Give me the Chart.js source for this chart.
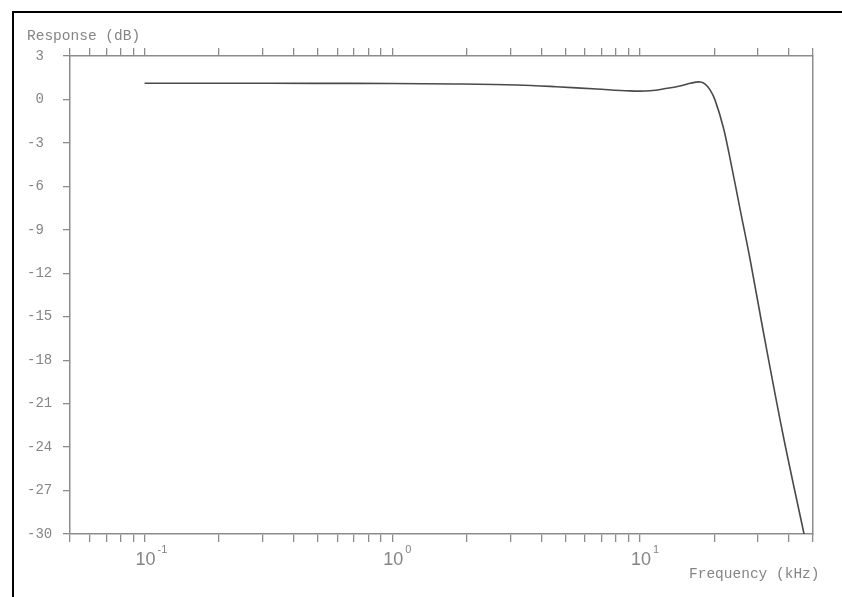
<!DOCTYPE html>
<html>
<head>
<meta charset="utf-8">
<script src="https://cdn.jsdelivr.net/npm/chart.js@4/dist/chart.umd.min.js"></script>
<style>
  html, body { margin: 0; padding: 0; background: #fff; overflow: hidden; }
  #wrap { position: relative; width: 842px; height: 597px; }
  #frame {
    position: absolute; left: 12px; top: 11px; right: -10px; bottom: -10px;
    border-top: 2px solid #000; border-left: 2px solid #000;
    pointer-events: none;
  }
  canvas { position: absolute; left: 0; top: 0; }
</style>
</head>
<body>
<div id="wrap">
  <canvas id="chart" width="842" height="597"></canvas>
  <div id="frame"></div>
</div>
<script>
// frequency (kHz) and response (dB)
const freqs = [0.1, 0.2, 0.5, 1, 1.8, 3.2, 4.6, 6.7, 9.1, 11, 12.9, 14.5, 16, 17.5, 18.3, 19.2, 20.1, 21.7, 23.2, 25.4, 27.9, 31.4, 37.9, 46]
const response = [1.12, 1.12, 1.11, 1.1, 1.07, 1.0, 0.88, 0.72, 0.59, 0.6, 0.77, 0.93, 1.12, 1.21, 1.07, 0.66, -0.03, -1.9, -4.2, -7.6, -11.1, -15.9, -23.2, -30]

// axis ticks
const xTickValues = [0.05, 0.06, 0.07, 0.08, 0.09, 0.1, 0.2, 0.3, 0.4, 0.5, 0.6, 0.7, 0.8, 0.9,
  1, 2, 3, 4, 5, 6, 7, 8, 9, 10, 20, 30, 40, 50]
const decadeValues = [0.1, 1, 10]
const decadeExps = ["-1", "0", "1"]
const yTickValues = [-30, -27, -24, -21, -18, -15, -12, -9, -6, -3, 0, 3]

const yTitle = "Response (dB)"
const xTitle = "Frequency (kHz)"

const axisColor = "#8c8c8c"
const textColor = "#858585"
const monoFont = '"Liberation Mono", "DejaVu Sans Mono", monospace'

// title texts and the 10^n decade labels
const plotText = {
  id: "plotText",
  afterDraw(chart) {
    const ctx = chart.ctx
    const xScale = chart.scales.x
    ctx.save()
    ctx.fillStyle = textColor
    ctx.textBaseline = "alphabetic"
    ctx.font = "14.5px " + monoFont
    ctx.textAlign = "left"
    ctx.fillText(yTitle, 27, 40)
    ctx.fillText(xTitle, 689, 578)

    decadeValues.forEach((v, i) => {
      const px = xScale.getPixelForValue(v)
      ctx.font = '18px "Liberation Sans", Arial, sans-serif'
      ctx.textAlign = "center"
      ctx.fillText("10", px + 1, 565)
      ctx.font = '11px "Liberation Sans", Arial, sans-serif'
      ctx.textAlign = "left"
      ctx.fillText(decadeExps[i], px + 13, 553)
    })
    ctx.restore()
  }
}

const logAxis = (position, height) => ({
  type: "logarithmic",
  position: position,
  min: 0.05,
  max: 50,
  afterBuildTicks: (scale) => {
    scale.ticks = xTickValues.map(v => ({ value: v }))
  },
  afterFit: (scale) => { scale.height = height },
  ticks: { display: false },
  grid: {
    drawOnChartArea: false,
    drawTicks: true,
    tickLength: 8,
    tickColor: axisColor,
    lineWidth: 1.3
  },
  border: { display: true, color: axisColor, width: 1.5 }
})

const ctx = document.getElementById("chart").getContext("2d")

new Chart(ctx, {
  type: "line",
  data: {
    datasets: [{
      data: freqs.map((f, i) => ({ x: f, y: response[i] })),
      borderColor: "#4a4a4a",
      borderWidth: 1.6,
      pointRadius: 0,
      fill: false,
      tension: 0.35
    }]
  },
  options: {
    responsive: false,
    animation: false,
    devicePixelRatio: 1,
    layout: { padding: { left: 27, top: 0, right: 0, bottom: 0 } },
    plugins: {
      legend: { display: false },
      tooltip: { enabled: false }
    },
    scales: {
      x: logAxis("bottom", 63),
      x2: logAxis("top", 56),
      y: {
        type: "linear",
        position: "left",
        min: -30,
        max: 3,
        afterBuildTicks: (scale) => {
          scale.ticks = yTickValues.map(v => ({ value: v }))
        },
        afterFit: (scale) => { scale.width = 43 },
        ticks: {
          crossAlign: "far",
          color: textColor,
          font: { family: monoFont, size: 14 },
          callback: (v) => (v < 0 ? "-" : " ") + Math.abs(v)
        },
        grid: {
          drawOnChartArea: false,
          drawTicks: true,
          tickLength: 7,
          tickColor: axisColor,
          lineWidth: 1.3
        },
        border: { display: true, color: axisColor, width: 1.5 }
      },
      y2: {
        type: "linear",
        position: "right",
        min: -30,
        max: 3,
        afterFit: (scale) => { scale.width = 29 },
        ticks: { display: false },
        grid: { display: false },
        border: { display: true, color: axisColor, width: 1.5 }
      }
    }
  },
  plugins: [plotText]
})
</script>
</body>
</html>
